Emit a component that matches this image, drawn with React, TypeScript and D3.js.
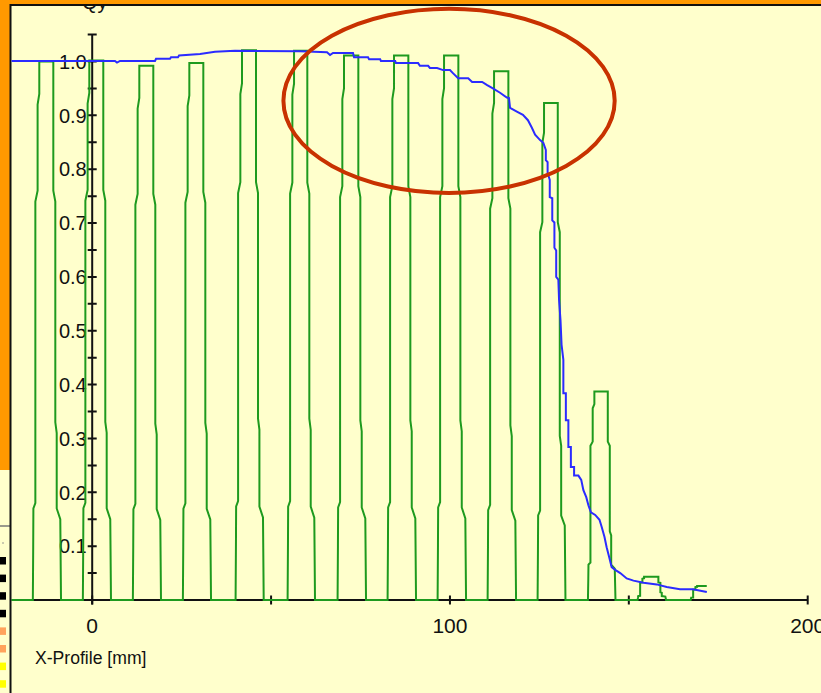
import React from 'react';
import * as d3 from 'd3';

const W = 821;
const H = 693;

// Green detector pulses (mm, value)
const pulseStart = [-14.79, -0.81, 13.17, 27.15, 41.88, 56.42, 70.39, 84.37, 98.35, 112.33, 126.3, 140.37, 154.26, 169.08];
const pulseEnd = [-10.87, 3.1, 17.08, 31.06, 45.79, 60.13, 74.39, 88.37, 102.35, 116.33, 130.14, 144.12, 158.26, 171.79];
const pulseHeight = [1.0, 1.002, 0.992, 0.997, 1.021, 1.02, 1.011, 1.011, 1.011, 0.982, 0.923, 0.387, 0.043, 0.026];

// Edge shape of a pulse (relative height, outward offset in mm)
const leftEdgeRel = [0, 0.1, 0.17, 0.18, 0.74, 0.76, 0.92, 0.94, 1];
const leftEdgeOff = [1.8, 1.7, 1.65, 1.1, 1.1, 0.47, 0.47, 0, 0];
const rightEdgeRel = [1, 0.76, 0.74, 0.33, 0.31, 0.17, 0.15, 0];
const rightEdgeOff = [0, 0, 0.56, 0.56, 0.95, 0.95, 1.95, 2.15];

// Blue profile (mm, value)
const blueX = [-22.7, 6.37, 6.93, 7.77, 17.56, 17.84, 21.75, 22.03, 23.99, 24.27, 30.14, 34.33, 39.92, 58.09, 65.64, 66.48, 67.31, 72.9, 73.2, 77.1, 77.4, 80.5, 80.7, 84.7, 84.9, 91.1, 91.6, 93.9, 94.4, 96.4, 98.1, 100.0, 100.9, 102.3, 105.1, 106.2, 109.0, 110.4, 112.0, 114.0, 115.9, 116.5, 116.8, 118.7, 120.4, 121.8, 122.9, 123.8, 125.2, 126.1, 126.8, 126.8, 127.3, 127.3, 127.9, 127.9, 128.6, 128.6, 129.2, 129.2, 129.7, 129.7, 130.3, 130.5, 130.9, 131.2, 131.7, 131.7, 132.4, 132.4, 133.1, 133.1, 133.8, 133.8, 134.7, 134.7, 135.9, 136.7, 137.3, 138.1, 138.7, 139.4, 140.6, 141.8, 142.4, 143.2, 143.8, 144.5, 145.2, 146.2, 147.6, 149.4, 151.3, 154.1, 157.8, 160.6, 164.3, 167.9, 171.8];
const blueY = [1.001, 1.001, 0.998, 1.001, 1.001, 1.005, 1.005, 1.008, 1.008, 1.011, 1.014, 1.018, 1.02, 1.019, 1.017, 1.012, 1.016, 1.016, 1.008, 1.008, 1.004, 1.004, 1.001, 1.001, 0.997, 0.997, 0.992, 0.992, 0.988, 0.988, 0.984, 0.984, 0.978, 0.969, 0.969, 0.962, 0.962, 0.956, 0.95, 0.942, 0.933, 0.932, 0.914, 0.907, 0.901, 0.891, 0.877, 0.864, 0.854, 0.849, 0.836, 0.817, 0.813, 0.793, 0.78, 0.748, 0.746, 0.705, 0.701, 0.654, 0.649, 0.6, 0.595, 0.557, 0.52, 0.474, 0.446, 0.384, 0.384, 0.334, 0.334, 0.284, 0.284, 0.247, 0.247, 0.231, 0.231, 0.223, 0.204, 0.191, 0.176, 0.163, 0.158, 0.149, 0.136, 0.117, 0.098, 0.08, 0.061, 0.056, 0.05, 0.04, 0.036, 0.032, 0.029, 0.024, 0.02, 0.02, 0.015];

const xTicks = [0, 50, 100, 150, 200];
const xTickLabels = [0, 100, 200];
const yTicks = [0.05, 0.1, 0.15, 0.2, 0.25, 0.3, 0.35, 0.4, 0.45, 0.5, 0.55, 0.6, 0.65, 0.7, 0.75, 0.8, 0.85, 0.9, 0.95, 1.0, 1.05];
const yTickLabels = [0.1, 0.2, 0.3, 0.4, 0.5, 0.6, 0.7, 0.8, 0.9, 1.0];
const sideSwatches = ['#000000', '#000000', '#000000', '#000000', '#FFA35C', '#FFA35C', '#FFFF00', '#FFFF00'];

// annotation ellipse (data coords)
const ellipseCx = 99.75;
const ellipseCy = 0.927;
const ellipseRxMm = 46.3;
const ellipseRyVal = 0.171;

export default function App() {
  const x = d3.scaleLinear().domain([0, 200]).range([92.2, 807.7]);
  const y = d3.scaleLinear().domain([0, 1]).range([600, 61.5]);

  const green: [number, number][] = [[-30, 0]];
  pulseStart.forEach((L, i) => {
    const R = pulseEnd[i];
    const h = pulseHeight[i];
    leftEdgeRel.forEach((r, k) => green.push([L - leftEdgeOff[k], r * h]));
    if (i < pulseStart.length - 1) {
      rightEdgeRel.forEach((r, k) => green.push([R + rightEdgeOff[k], r * h]));
    } else {
      green.push([R, h]);
    }
  });
  const blue: [number, number][] = blueX.map((v, i) => [v, blueY[i]]);

  const line = d3.line<[number, number]>().x(d => x(d[0])).y(d => y(d[1]));

  const font = '"Liberation Sans", Arial, sans-serif';
  const x0 = x(0);
  const ink = '#111';

  return (
    <svg width={W} height={H} style={{ position: 'absolute', left: 0, top: 0 }} xmlns="http://www.w3.org/2000/svg">
      <defs>
        <clipPath id="plot">
          <rect x={11.5} y={5.5} width={W} height={H} />
        </clipPath>
      </defs>
      <rect x={0} y={0} width={W} height={H} fill="#FFFFCC" />
      <rect x={0} y={0} width={W} height={4} fill="#FF9900" />
      <rect x={0} y={0} width={10} height={470} fill="#FF9900" />
      <line x1={0} x2={10} y1={526} y2={526} stroke="#777" strokeWidth={1.5} />
      <circle cx={3} cy={543} r={0.8} fill="#888" />
      {sideSwatches.map((c, i) => (
        <rect key={i} x={0} y={557 + i * 17.6} width={6} height={7.5} fill={c} />
      ))}
      <line x1={10} x2={W} y1={5} y2={5} stroke="#111" strokeWidth={2} />
      <line x1={10.5} x2={10.5} y1={4} y2={H} stroke="#111" strokeWidth={2} />

      <g clipPath="url(#plot)">
        <text x={82} y={9} fontFamily={font} fontSize={20} fill={ink}>Qy</text>
        {/* axes */}
        <line x1={11} x2={x(200)} y1={y(0)} y2={y(0)} stroke="#111" strokeWidth={2} />
        <line x1={x0} x2={x0} y1={y(1.05)} y2={y(0) + 4.5} stroke="#111" strokeWidth={2} />
        {xTicks.map(t => (
          <line key={t} x1={x(t)} x2={x(t)} y1={y(0) - 4.5} y2={y(0) + 4.5} stroke="#111" strokeWidth={2} />
        ))}
        {yTicks.map(t => (
          <line key={t} x1={x0 - 4.5} x2={x0 + 4.5} y1={y(t)} y2={y(t)} stroke="#111" strokeWidth={2} />
        ))}
        {yTickLabels.map(t => (
          <text key={t} x={x0 - 5.5} y={y(t)} dy="0.36em" textAnchor="end" fontFamily={font} fontSize={20} fill={ink}>
            {d3.format('.1f')(t)}
          </text>
        ))}
        {xTickLabels.map(t => (
          <text key={t} x={x(t)} y={633} textAnchor="middle" fontFamily={font} fontSize={21} fill={ink}>
            {t}
          </text>
        ))}
        <text x={35} y={664} fontFamily={font} fontSize={17.6} fill={ink}>X-Profile [mm]</text>

        <path d={line(green) || ''} fill="none" stroke="#1E9A1E" strokeWidth={2} />
        <path d={line(blue) || ''} fill="none" stroke="#2B2BFF" strokeWidth={2} />
        <ellipse
          cx={x(ellipseCx)}
          cy={y(ellipseCy)}
          rx={x(ellipseCx + ellipseRxMm) - x(ellipseCx)}
          ry={y(ellipseCy - ellipseRyVal) - y(ellipseCy)}
          fill="none"
          stroke="#C83200"
          strokeWidth={4}
        />
      </g>
    </svg>
  );
}
